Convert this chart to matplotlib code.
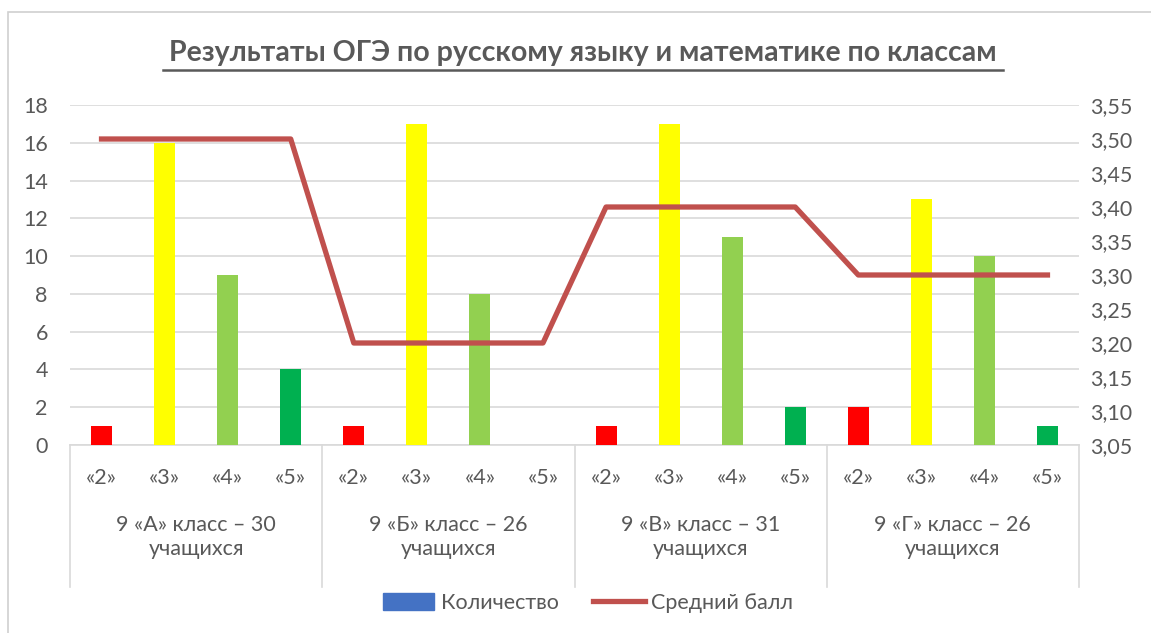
import matplotlib
matplotlib.use("Agg")
import matplotlib.pyplot as plt
from matplotlib.patches import Rectangle
from matplotlib.lines import Line2D
from matplotlib.ticker import FuncFormatter, MultipleLocator

plt.rcParams['font.family'] = ['Lato', 'DejaVu Sans']

groups = ["9 «А» класс – 30\nучащихся", "9 «Б» класс – 26\nучащихся",
          "9 «В» класс – 31\nучащихся", "9 «Г» класс – 26\nучащихся"]
grades = ["«2»", "«3»", "«4»", "«5»"]
counts = [1, 16, 9, 4,
          1, 17, 8, 0,
          1, 17, 11, 2,
          2, 13, 10, 1]
avg_score = [3.5, 3.5, 3.5, 3.5,
             3.2, 3.2, 3.2, 3.2,
             3.4, 3.4, 3.4, 3.4,
             3.3, 3.3, 3.3, 3.3]
grade_colors = ["#FF0000", "#FFFF00", "#92D050", "#00B050"]

W, H = 1151, 633
fig = plt.figure(figsize=(W / 100, H / 100), dpi=100)
txt = "#595959"
grid = "#D9D9D9"
fs = 15.5

def fx(p): return p / W
def fy(p): return 1 - p / H

# outer border
fig.add_artist(Rectangle((fx(8), fy(640)), fx(1160 - 8), (640 - 12) / H,
                         transform=fig.transFigure, fill=False,
                         edgecolor="#D0D0D0", linewidth=1.2))

x0, x1, yb, yt = 70, 1079, 445, 105
ax = fig.add_axes([fx(x0), fy(yb), fx(x1 - x0), (yb - yt) / H])
n = len(counts)
xs = list(range(n))
colors = [grade_colors[i % 4] for i in xs]
ax.bar(xs, counts, width=1 / 3, color=colors, zorder=3)
ax.set_xlim(-0.5, n - 0.5)
ax.set_ylim(0, 18)
ax.yaxis.set_major_locator(MultipleLocator(2))
ax.grid(axis="y", color=grid, linewidth=1.2, zorder=0)
for s in ["top", "right", "left"]:
    ax.spines[s].set_visible(False)
ax.spines["bottom"].set_color(grid)
ax.spines["bottom"].set_linewidth(1.2)
ax.set_xticks([])
ax.tick_params(axis="y", length=0, labelsize=fs, labelcolor=txt, pad=16)

ax2 = ax.twinx()
ax2.plot(xs, avg_score, color="#C0504D", linewidth=3.8, zorder=4)
ax2.set_ylim(3.05, 3.55)
ax2.yaxis.set_major_locator(MultipleLocator(0.05))
ax2.yaxis.set_major_formatter(FuncFormatter(lambda v, p: f"{v:.2f}".replace(".", ",")))
for s in ax2.spines.values():
    s.set_visible(False)
ax2.tick_params(axis="y", length=0, labelsize=fs, labelcolor=txt, pad=8)

# category axis (two-level)
tr = ax.get_xaxis_transform()
for i, g in enumerate(grades * len(groups)):
    ax.text(i, -33 / (yb - yt), g, transform=tr, ha="center", va="center",
            fontsize=fs, color=txt)
for gi, g in enumerate(groups):
    ax.text(gi * 4 + 1.5, -92 / (yb - yt), g, transform=tr, ha="center",
            va="center", fontsize=fs, color=txt, linespacing=1.3)
for b in [-0.5, 3.5, 7.5, 11.5, 15.5]:
    ax.add_line(Line2D([b, b], [0, -(587 - yb) / (yb - yt)], transform=tr,
                       color=grid, linewidth=1.2, clip_on=False))

# title
fig.text(fx(583), fy(53), "Результаты ОГЭ по русскому языку и математике по классам",
         ha="center", va="center", fontsize=20.5, fontweight="bold", color=txt)
fig.add_artist(Line2D([fx(163), fx(1003)], [fy(70), fy(70)], transform=fig.transFigure,
                      color=txt, linewidth=1.8))

handles = [Rectangle((0, 0), 1, 1, color="#4472C4"),
           Line2D([0], [0], color="#C0504D", linewidth=3.8)]
fig.legend(handles, ["Количество", "Средний балл"], loc="center",
           bbox_to_anchor=(fx(588), fy(603)), ncol=2, frameon=False,
           fontsize=fs, labelcolor=txt, handlelength=2.4, handleheight=0.8,
           columnspacing=1.6, handletextpad=0.3)

fig.savefig("out.png", dpi=100)
